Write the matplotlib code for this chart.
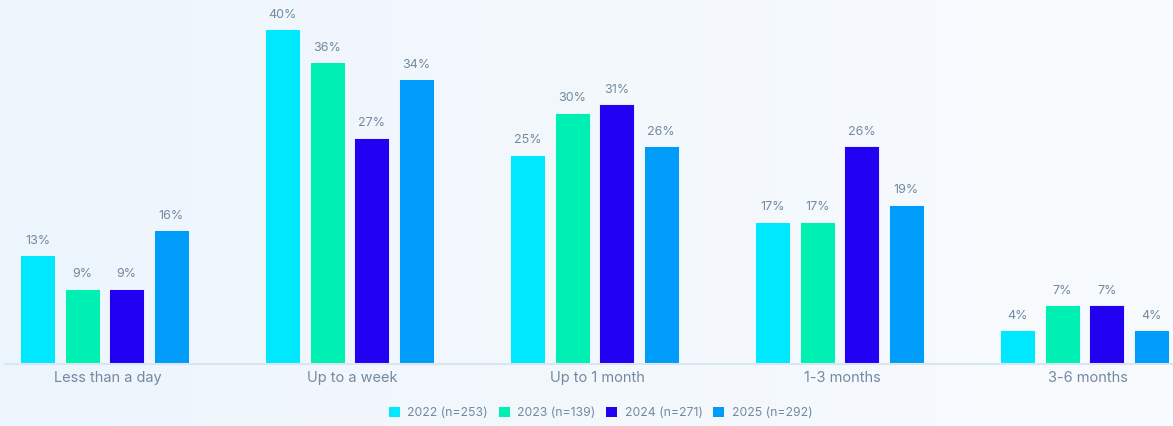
import numpy as np
import matplotlib.pyplot as plt
from matplotlib.patches import Patch
from matplotlib.colors import LinearSegmentedColormap

plt.rcParams["font.family"] = ["Inter", "DejaVu Sans"]

categories = ["Less than a day", "Up to a week", "Up to 1 month", "1-3 months", "3-6 months"]
series_names = ["2022 (n=253)", "2023 (n=139)", "2024 (n=271)", "2025 (n=292)"]
v2022 = [13, 40, 25, 17, 4]
v2023 = [9, 36, 30, 17, 7]
v2024 = [9, 27, 31, 26, 7]
v2025 = [16, 34, 26, 19, 4]
series = [v2022, v2023, v2024, v2025]
colors = ["#00E8FF", "#00F0B4", "#2200F2", "#009CFA"]

text_col = "#7489A0"

fig = plt.figure(figsize=(11.73, 4.26), dpi=100)

# soft background gradient (slightly darker on the left)
bg = fig.add_axes([0, 0, 1, 1], zorder=-10)
grad = np.linspace(0, 1, 256).reshape(1, -1)
cmap = LinearSegmentedColormap.from_list("bg", ["#EDF5FC", "#F3F8FD", "#F8FBFE"])
bg.imshow(grad, aspect="auto", cmap=cmap, extent=[0, 1, 0, 1])
bg.axis("off")

ax = fig.add_axes([5 / 1173, 62 / 426, 1 - 5 / 1173, 1 - 62 / 426])
ax.patch.set_alpha(0)

x = np.arange(len(categories))
step = 0.1816
width = 0.143
for i, (vals, col) in enumerate(zip(series, colors)):
    pos = x + (i - 1.5) * step
    bars = ax.bar(pos, vals, width=width, color=col, label=series_names[i],
                  edgecolor="white", linewidth=0.6)
    for b, v in zip(bars, vals):
        ax.text(b.get_x() + b.get_width() / 2, v + 1.0, f"{v}%", ha="center",
                va="bottom", fontsize=9, color=text_col)

ax.set_xlim((5 - 104.5) / 245, (1173 - 104.5) / 245)
ax.set_ylim(0, 43.46)
for s in ["top", "right", "left"]:
    ax.spines[s].set_visible(False)
ax.spines["bottom"].set_color("#D8E6F2")
ax.spines["bottom"].set_linewidth(1.5)
ax.set_yticks([])
ax.set_xticks(x + 0.012)
ax.set_xticklabels(categories, fontsize=10.5, color=text_col)
ax.tick_params(axis="x", length=0, pad=5)

handles = [Patch(facecolor=c, label=n) for c, n in zip(colors, series_names)]
fig.legend(handles=handles, loc="center", bbox_to_anchor=(0.512, 0.03), ncol=4,
           frameon=False, fontsize=8.8, labelcolor=text_col, handlelength=0.9,
           handleheight=0.9, handletextpad=0.6, columnspacing=0.9)

fig.savefig("out.png", dpi=100, facecolor=fig.get_facecolor())
